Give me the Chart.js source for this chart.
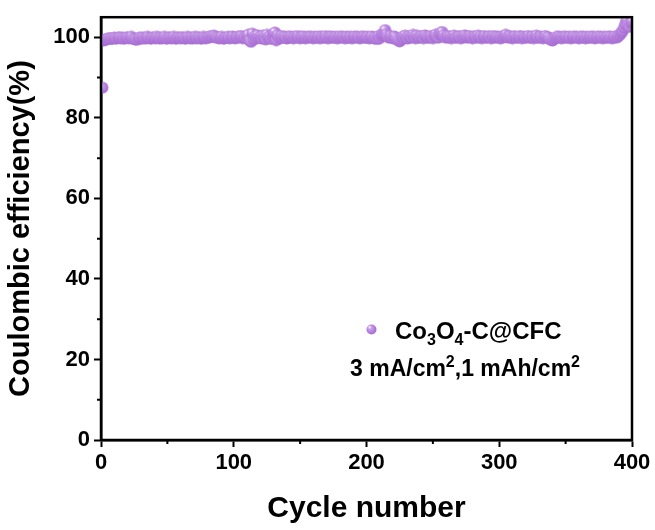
<!DOCTYPE html>
<html lang="en">
<head>
  <meta charset="UTF-8" />
  <title>Coulombic efficiency</title>
  <script src="https://cdn.jsdelivr.net/npm/chart.js"></script>
  <style>
    html, body { margin: 0; padding: 0; background: #fff; }
    #wrap { width: 655px; height: 530px; }
  </style>
</head>
<body>
  <div id="wrap"><canvas id="ceChart" width="655" height="530"></canvas></div>

  <script>
    // coulombic efficiency (%) per cycle
    const efficiency = [
      87.5, 99.2, 99.4, 99.5, 99.6, 99.7, 99.6, 99.8, 99.7, 99.9, 99.8, 99.7, 99.9, 100.0, 99.8, 99.9, 99.7, 99.8, 100.0, 99.9,
      99.8, 99.9, 100.1, 99.7, 99.6, 99.5, 99.4, 99.6, 99.9, 99.8, 100.0, 99.7, 99.9, 99.8, 100.1, 99.9, 99.7, 99.8, 100.0, 99.9,
      99.8, 100.1, 99.9, 99.7, 100.0, 99.8, 99.9, 100.1, 99.8, 99.7, 99.9, 100.0, 99.8, 99.9, 100.1, 99.7, 99.8, 100.0, 99.9, 99.8,
      100.0, 99.9, 99.7, 99.8, 100.1, 99.9, 99.8, 100.0, 99.7, 99.9, 100.1, 99.8, 99.9, 100.0, 99.7, 99.8, 100.1, 99.9, 99.8, 100.0,
      99.9, 100.2, 100.3, 100.1, 100.4, 100.2, 99.9, 100.0, 99.8, 99.9, 100.1, 99.7, 99.8, 100.0, 99.9, 100.1, 99.8, 99.9, 100.2, 99.9,
      99.8, 100.0, 100.1, 99.9, 100.3, 100.2, 99.8, 100.0, 99.9, 100.4, 100.6, 99.2, 98.9, 100.9, 99.5, 100.3, 99.8, 100.5, 99.9, 100.2,
      99.7, 100.4, 100.1, 99.5, 100.6, 99.9, 100.2, 99.6, 100.3, 100.8, 101.2, 99.3, 100.5, 100.1, 99.8, 100.3, 99.9, 100.2, 100.0, 99.7,
      100.1, 99.9, 100.2, 100.0, 99.8, 100.1, 99.9, 100.3, 100.0, 99.8, 100.1, 99.9, 100.2, 99.8, 100.0, 100.1, 99.9, 100.2, 100.0, 99.8,
      100.1, 100.0, 99.9, 100.2, 99.8, 100.1, 100.0, 99.9, 100.3, 100.0, 99.8, 100.1, 99.9, 100.2, 100.0, 99.9, 100.1, 99.8, 100.0, 100.2,
      99.9, 100.1, 100.0, 99.8, 100.2, 100.0, 99.9, 100.1, 99.8, 100.0, 100.2, 99.9, 100.1, 100.0, 99.8, 100.1, 99.9, 100.2, 100.0, 99.9,
      100.1, 99.8, 100.0, 100.2, 99.9, 99.7, 100.0, 99.6, 100.3, 99.8, 100.5, 100.8, 101.0, 101.8, 100.6, 100.2, 99.9, 100.3, 100.0, 99.8,
      100.2, 99.9, 99.5, 99.2, 99.0, 99.4, 100.1, 99.8, 100.4, 100.0, 99.7, 100.3, 100.1, 99.9, 100.6, 100.2, 99.8, 100.4, 100.0, 99.9,
      100.3, 100.1, 99.8, 100.5, 100.2, 100.0, 99.9, 100.3, 100.1, 99.8, 100.4, 100.6, 100.2, 99.9, 100.7, 101.1, 101.3, 100.5, 100.1, 99.9,
      100.3, 100.0, 100.2, 99.8, 100.1, 100.4, 100.0, 99.9, 100.2, 100.1, 99.8, 100.3, 100.0, 100.5, 100.2, 99.9, 100.1, 100.3, 100.0, 99.8,
      100.2, 100.1, 99.9, 100.4, 100.0, 100.2, 99.8, 100.1, 100.3, 100.0, 99.9, 100.2, 100.1, 99.8, 100.3, 100.0, 100.2, 99.9, 100.1, 100.0,
      99.8, 100.2, 100.0, 100.4, 100.6, 100.1, 99.9, 100.3, 100.0, 99.8, 100.1, 100.2, 99.9, 100.0, 100.3, 100.1, 99.8, 100.2, 100.0, 99.9,
      100.1, 100.3, 99.9, 100.0, 100.2, 99.8, 100.1, 100.4, 100.0, 99.9, 100.2, 100.0, 99.8, 100.1, 100.3, 99.9, 100.0, 99.6, 99.4, 99.2,
      99.5, 99.8, 100.1, 99.9, 100.2, 100.0, 99.8, 100.1, 99.9, 100.2, 100.0, 99.9, 100.1, 99.8, 100.0, 100.2, 99.9, 100.1, 100.0, 99.8,
      100.1, 99.9, 100.2, 100.0, 99.8, 100.1, 99.9, 100.0, 100.2, 99.9, 100.1, 99.8, 100.0, 100.1, 99.9, 100.2, 100.0, 99.8, 100.1, 99.9,
      100.0, 100.2, 99.9, 100.1, 99.8, 100.0, 100.2, 99.9, 100.1, 100.4, 100.7, 101.2, 101.6, 102.4, 103.3, 104.2, 103.0, 102.6, 103.6, 104.0
    ];
    const cycles = efficiency.map((_, i) => i + 1);

    const xTicks = [0, 100, 200, 300, 400];
    const xMinor = [50, 150, 250, 350];
    const yTicks = [0, 20, 40, 60, 80, 100];
    const yMinor = [10, 30, 50, 70, 90];

    const FONT = "'Liberation Sans', Arial, sans-serif";
    const PURPLE = '#b07ad8';

    // shaded sphere marker like the origin plot
    function sphere(r) {
      const c = document.createElement('canvas');
      c.width = c.height = r * 2 + 1;
      const g = c.getContext('2d');
      const grad = g.createRadialGradient(r * 0.7, r * 0.6, 0.5, r, r, r);
      grad.addColorStop(0, '#f4eafb');
      grad.addColorStop(0.3, '#c99ce8');
      grad.addColorStop(1, '#a86ed4');
      g.fillStyle = grad;
      g.beginPath();
      g.arc(r + 0.5, r + 0.5, r, 0, Math.PI * 2);
      g.fill();
      return c;
    }
    const marker = sphere(6);
    const legendMarker = sphere(5);

    // box, minor ticks and the text legend
    const extras = {
      id: 'extras',
      afterDraw(chart) {
        const ctx = chart.ctx;
        const a = chart.chartArea;
        const xs = chart.scales.x, ys = chart.scales.y;
        ctx.save();
        ctx.strokeStyle = '#000';
        ctx.lineWidth = 2.5;
        ctx.strokeRect(a.left, a.top, a.right - a.left, a.bottom - a.top);
        ctx.lineWidth = 2;
        ctx.beginPath();
        xMinor.forEach(v => {
          const px = xs.getPixelForValue(v);
          ctx.moveTo(px, a.bottom);
          ctx.lineTo(px, a.bottom + 4);
        });
        yMinor.forEach(v => {
          const py = ys.getPixelForValue(v);
          ctx.moveTo(a.left, py);
          ctx.lineTo(a.left - 4, py);
        });
        ctx.stroke();

        // legend
        const lx = 371, ly = 329;
        ctx.drawImage(legendMarker, lx - 5, ly - 5);
        ctx.fillStyle = '#000';
        ctx.textBaseline = 'alphabetic';
        ctx.textAlign = 'left';
        const big = 'bold 24px ' + FONT, small = 'bold 16px ' + FONT;
        let x = 395;
        const base = 339;
        [['Co', big, 0], ['3', small, 6], ['O', big, 0], ['4', small, 6], ['-C@CFC', big, 0]].forEach(([t, f, dy]) => {
          ctx.font = f;
          ctx.fillText(t, x, base + dy);
          x += ctx.measureText(t).width;
        });
        x = 350;
        const base2 = 376;
        const mid = 'bold 23px ' + FONT;
        [['3 mA/cm', mid, 0], ['2', small, -9], [',1 mAh/cm', mid, 0], ['2', small, -9]].forEach(([t, f, dy]) => {
          ctx.font = f;
          ctx.fillText(t, x, base2 + dy);
          x += ctx.measureText(t).width;
        });
        ctx.restore();
      }
    };

    new Chart(document.getElementById('ceChart'), {
      type: 'scatter',
      data: {
        datasets: [{
          label: 'Co3O4-C@CFC',
          data: cycles.map((c, i) => ({ x: c, y: efficiency[i] })),
          pointStyle: marker,
          pointRadius: 6,
          backgroundColor: PURPLE,
          borderColor: PURPLE
        }]
      },
      options: {
        responsive: false,
        animation: false,
        layout: { padding: { top: 16, right: 23, left: 0, bottom: 0 } },
        plugins: {
          legend: { display: false },
          tooltip: { enabled: false }
        },
        scales: {
          x: {
            type: 'linear',
            min: 0,
            max: 400,
            afterBuildTicks: s => { s.ticks = xTicks.map(v => ({ value: v })); },
            afterFit: s => { s.height = 90; },
            grid: { drawOnChartArea: false, tickLength: 7, tickWidth: 2, tickColor: '#000' },
            border: { color: '#000', width: 2.5 },
            ticks: { color: '#000', padding: 3, maxRotation: 0, font: { family: FONT, size: 22, weight: 'bold' } },
            title: { display: true, text: 'Cycle number', color: '#000', padding: { top: 0, bottom: 3 }, font: { family: FONT, size: 30, weight: 'bold' } }
          },
          y: {
            min: 0,
            max: 105,
            afterBuildTicks: s => { s.ticks = yTicks.map(v => ({ value: v })); },
            afterFit: s => { s.width = 101; },
            grid: { drawOnChartArea: false, tickLength: 7, tickWidth: 2, tickColor: '#000' },
            border: { color: '#000', width: 2.5 },
            ticks: { color: '#000', padding: 4, font: { family: FONT, size: 22, weight: 'bold' } },
            title: { display: true, text: 'Coulombic efficiency(%)', color: '#000', padding: { top: 4, bottom: 0 }, font: { family: FONT, size: 29, weight: 'bold' } }
          }
        }
      },
      plugins: [extras]
    });
  </script>
</body>
</html>
